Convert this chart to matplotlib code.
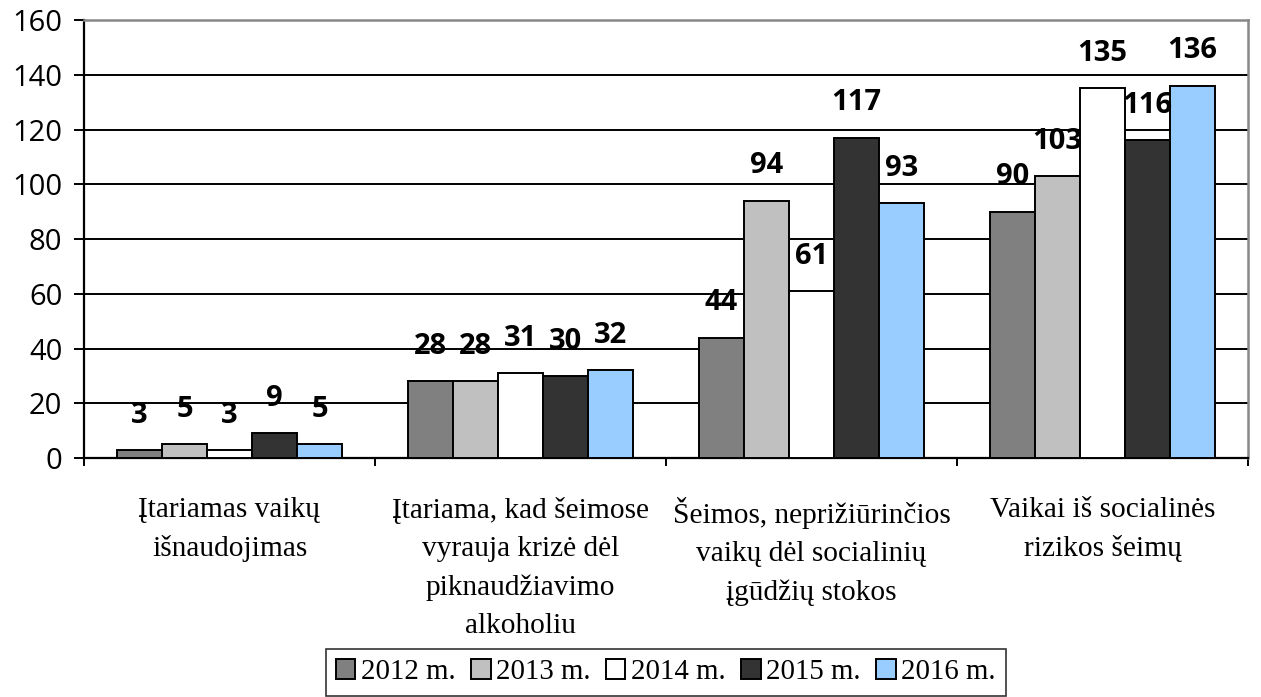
import numpy as np
import matplotlib
matplotlib.use("Agg")
import matplotlib.pyplot as plt

# ---- data ----
categories = ["Įtariamas vaikų\nišnaudojimas",
              "Įtariama, kad šeimose\nvyrauja krizė dėl\npiknaudžiavimo\nalkoholiu",
              "Šeimos, neprižiūrinčios\nvaikų dėl socialinių\nįgūdžių stokos",
              "Vaikai iš socialinės\nrizikos šeimų"]
years = ["2012 m.", "2013 m.", "2014 m.", "2015 m.", "2016 m."]
v2012 = [3, 28, 44, 90]
v2013 = [5, 28, 94, 103]
v2014 = [3, 31, 61, 135]
v2015 = [9, 30, 117, 116]
v2016 = [5, 32, 93, 136]
yticks = [0, 20, 40, 60, 80, 100, 120, 140, 160]

series = [v2012, v2013, v2014, v2015, v2016]
colors = ["#808080", "#C0C0C0", "#FFFFFF", "#333333", "#99CCFF"]

sans = "Open Sans"
serif = "Liberation Serif"

fig = plt.figure(figsize=(12.61, 6.97), dpi=100)
ax = fig.add_axes([0.0666, 0.3429, 0.9231, 0.6284])

x = np.arange(len(categories))
w = 0.1546
for j, vals in enumerate(series):
    pos = x + (j - 2) * w
    ax.bar(pos, vals, width=w, color=colors[j], edgecolor="black",
           linewidth=1.4, label=years[j], zorder=3)
    for px, v in zip(pos, vals):
        ax.annotate(str(v), (px, v), xytext=(0, 25), textcoords="offset points",
                    ha="center", va="center", fontsize=21, fontweight="bold",
                    family=sans, zorder=4)

ax.set_ylim(0, 160)
ax.set_xlim(-0.5, len(categories) - 0.5)
ax.set_yticks(yticks)
ax.set_yticklabels([str(t) for t in yticks], fontsize=21, family=sans)
ax.yaxis.grid(True, color="black", linewidth=1.4, zorder=0)

# category boundaries as ticks, names at centres
ax.set_xticks(np.arange(-0.5, len(categories)), [])
ax.set_xticks(x, categories, minor=True)
ax.tick_params(axis="x", which="major", length=6, width=1.4, direction="out")
ax.tick_params(axis="x", which="minor", length=0, pad=28)
for lbl in ax.get_xticklabels(minor=True):
    lbl.set_family(serif)
    lbl.set_fontsize(21.2)
    lbl.set_linespacing(1.6)
    lbl.set_ha("center")
    lbl.set_va("top")
ax.tick_params(axis="y", length=7.5, width=1.4, pad=8, direction="out")

for s in ["left", "bottom"]:
    ax.spines[s].set_color("black")
    ax.spines[s].set_linewidth(1.6)
for s in ["top", "right"]:
    ax.spines[s].set_color("#888888")
    ax.spines[s].set_linewidth(1.8)

leg = fig.legend(loc="center", bbox_to_anchor=(0.528, 0.0352), ncol=5,
                 prop={"family": serif, "size": 20.8}, frameon=True,
                 fancybox=False, edgecolor="black", handlelength=0.68,
                 handleheight=0.68, handletextpad=0.2, columnspacing=0.52,
                 borderpad=0.35, borderaxespad=0)
leg.get_frame().set_linewidth(1.2)

fig.savefig("out.png", dpi=100)
